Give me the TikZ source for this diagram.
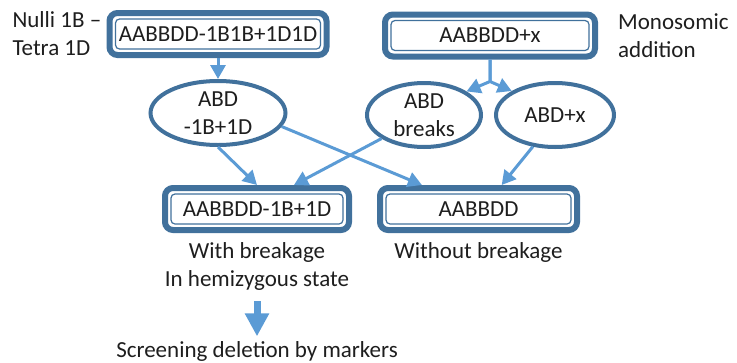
\documentclass[tikz,border=0pt]{standalone}
\usepackage{fontspec}
\setmainfont{Carlito}
\usepackage{xcolor}
\definecolor{DLdark}{HTML}{41719C}
\definecolor{DLlight}{HTML}{5B9BD5}
\definecolor{DLtext}{HTML}{1E1E1E}
\usetikzlibrary{arrows.meta, shapes.geometric, positioning}

\begin{document}
\begin{tikzpicture}[
  x=1pt, y=1pt,
  every node/.style={font=\fontsize{23}{28}\selectfont, text=DLtext},
  stock/.style={
    draw=DLdark, line width=6pt, rounded corners=8pt,
    fill=white, minimum height=42pt, inner sep=2pt
  },
  inset/.style={draw=DLdark, line width=1.2pt, rounded corners=4pt},
  gamete/.style={
    ellipse, draw=DLdark, line width=4pt, fill=white,
    minimum height=64pt, inner xsep=2pt, inner ysep=-4pt, align=center
  },
  note/.style={align=center, inner sep=2pt},
  arrow/.style={-{Triangle[width=15pt, length=14pt]}, line width=3pt, draw=DLlight},
  bigarrow/.style={-{Triangle[width=23pt, length=23pt]}, line width=7pt, draw=DLlight},
]
\useasboundingbox (0,0) rectangle (737,-362);

% Parents
\node[stock, minimum width=217pt] (nulli) at (218,-34) {AABBDD-1B1B+1D1D};
\node[stock, minimum width=210pt] (mono) at (490,-35.5) {AABBDD+x};
\node[note, align=left, left=3pt of nulli] (nullilab) {Nulli 1B \textendash\\Tetra 1D};
\node[note, align=left, right=18pt of mono] (monolab) {Monosomic\\addition};

% Gametes
\node[gamete, minimum width=135pt, below=21pt of nulli] (abd) {ABD\\-1B+1D};
\node[gamete, minimum width=114pt] (brk) at (424,-115) {ABD\\breaks};
\node[gamete, minimum width=118pt, right=11pt of brk] (addx) {ABD+x};

% Offspring
\node[stock, minimum width=184pt] (hemi) at (257,-209) {AABBDD-1B+1D};
\node[stock, minimum width=197pt, right=25pt of hemi] (euplo) {AABBDD};
\node[note, below=7pt of hemi] (withlab) {With breakage\\In hemizygous state};
\node[note, below=7pt of euplo] (withoutlab) {Without breakage};
\node[note, below=47pt of withlab] (screen) {Screening deletion by markers};

% inner lines of the double boxes
\foreach \n in {nulli, mono, hemi, euplo}
  \draw[inset] ([shift={(9pt,-9pt)}]\n.north west) rectangle ([shift={(-9pt,9pt)}]\n.south east);

% Arrows
\coordinate[below=22pt of mono] (split);
\draw[arrow] (nulli) -- (nulli |- abd.north);
\draw[arrow] (mono) -- (split) -- (brk.29);
\draw[arrow] (mono) -- (split) -- (addx.151);
\draw[arrow] (abd.south) -- (hemi.north);
\draw[arrow] (abd.-12) -- (euplo.157);
\draw[arrow] (brk.209) -- (hemi.33);
\draw[arrow] (addx.235) -- (euplo.46);
\draw[bigarrow, shorten <=9pt, shorten >=3pt] (withlab) -- (screen);

\end{tikzpicture}
\end{document}
